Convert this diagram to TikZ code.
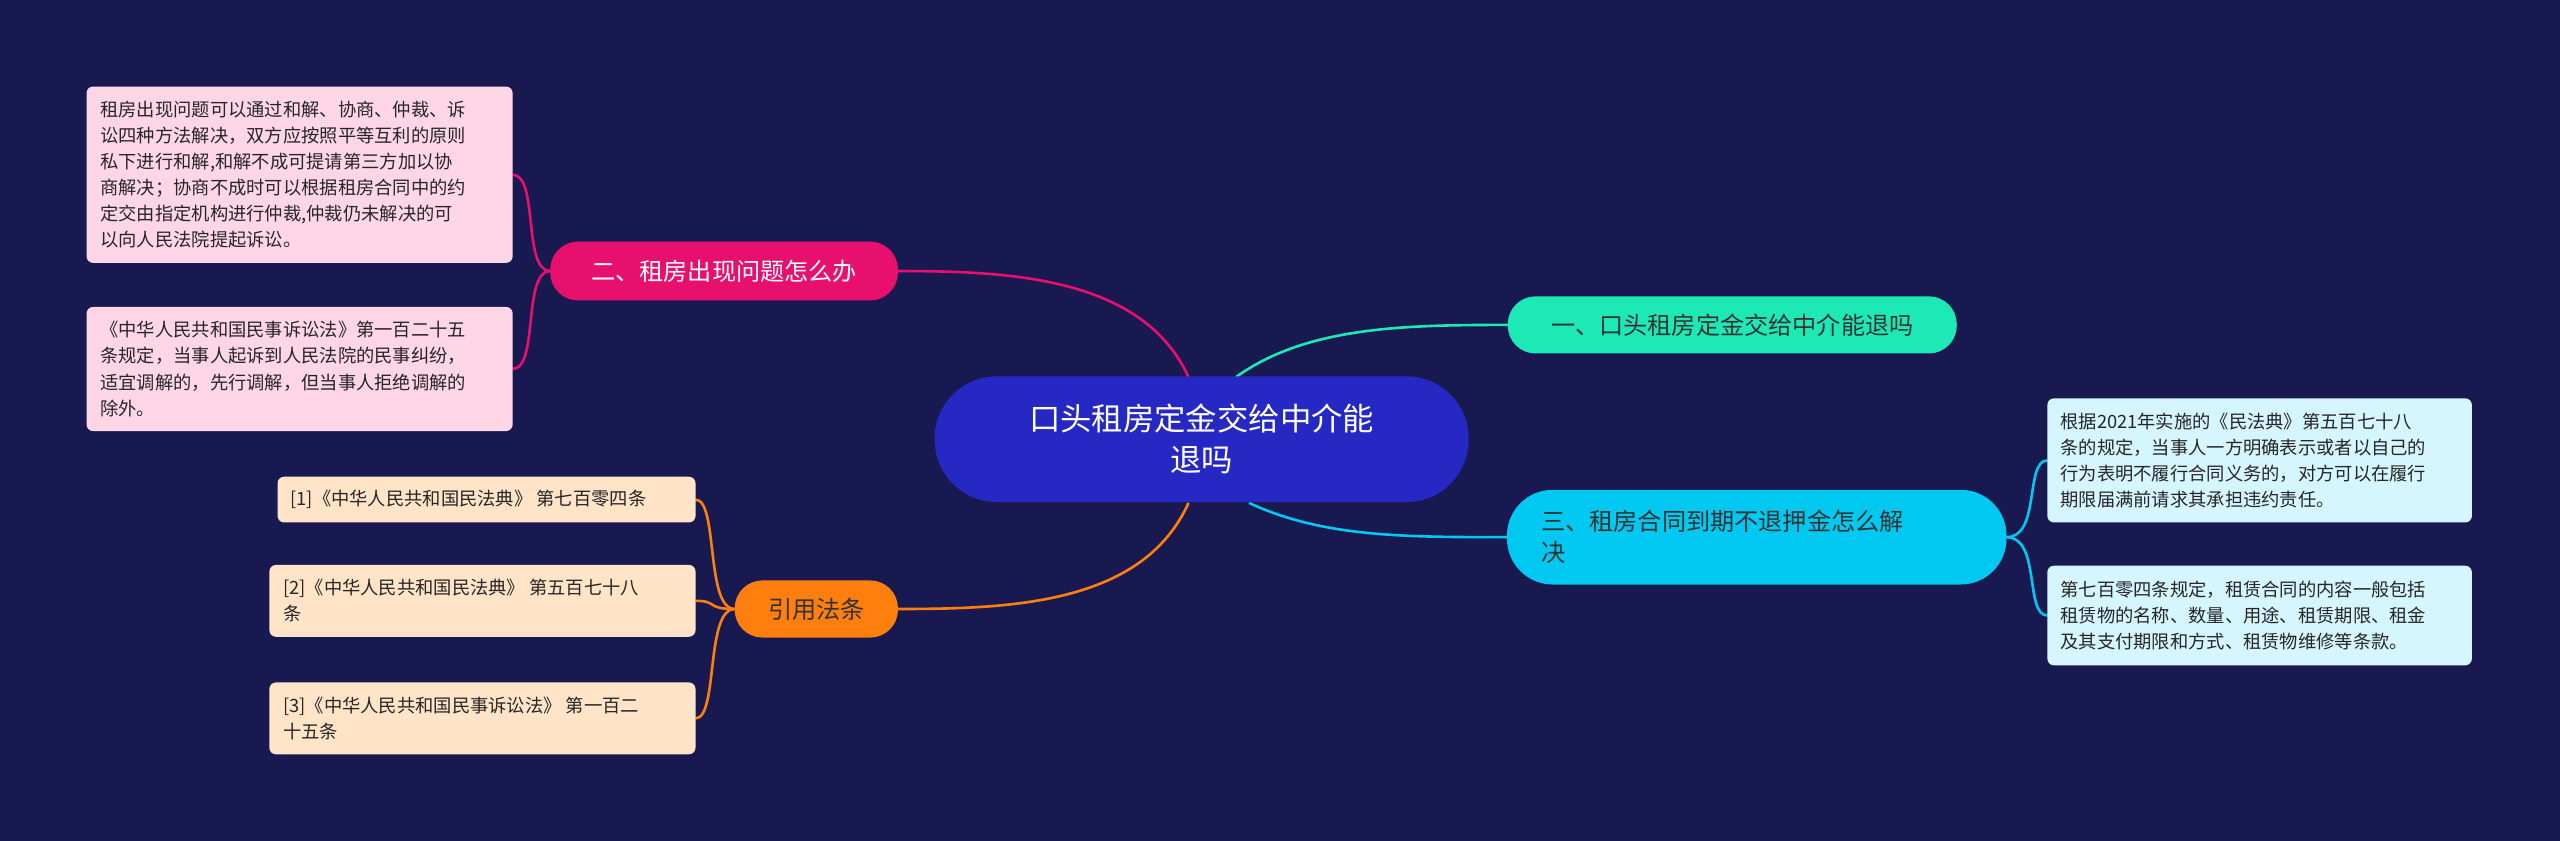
\documentclass[tikz,border=0pt]{standalone}
\usepackage{fontspec}
\setmainfont{Noto Sans CJK SC}
\begin{document}
\begin{tikzpicture}[x=0.5pt,y=-0.5pt,
 box/.style={rounded corners=2pt,inner sep=0pt,align=left,font=\fontsize{5.6pt}{8pt}\selectfont,text=black!85},
 pinkleaf/.style={box,fill=pink!40!white,fill={rgb,255:red,255;green,214;blue,230}},
 orleaf/.style={box,fill={rgb,255:red,255;green,228;blue,200}},
 cyleaf/.style={box,fill={rgb,255:red,214;green,246;blue,255}},
 br/.style={rounded corners=8.5pt,inner sep=0pt,align=left,font=\fontsize{7.4pt}{9.5pt}\selectfont},
 lnk/.style={line width=0.8pt}]
\fill[fill={rgb,255:red,24;green,25;blue,80}] (0,0) rectangle (1568,515);
\useasboundingbox (0,0) rectangle (1568,515);
\definecolor{cpink}{RGB}{232,16,110}
\definecolor{corange}{RGB}{255,127,14}
\definecolor{cteal}{RGB}{29,233,182}
\definecolor{ccyan}{RGB}{0,200,240}
% connectors
\draw[lnk,cpink] (728,231) .. controls (700,170) and (620,166) .. (550,166);
\draw[lnk,corange] (728,308) .. controls (700,370) and (620,373) .. (550,373);
\draw[lnk,cteal] (757,231) .. controls (800,200) and (860,199) .. (924,199);
\draw[lnk,ccyan] (765,308) .. controls (810,329) and (860,329) .. (923,329);
\draw[lnk,cpink] (337,166) .. controls (320,166) and (330,107) .. (314,107);
\draw[lnk,cpink] (337,166) .. controls (320,166) and (330,226) .. (314,226);
\draw[lnk,corange] (450,373) .. controls (432,373) and (440,306) .. (426,306);
\draw[lnk,corange] (450,373) .. controls (432,373) and (440,368) .. (426,368);
\draw[lnk,corange] (450,373) .. controls (432,373) and (440,440) .. (426,440);
\draw[lnk,ccyan] (1229,329) .. controls (1250,329) and (1240,282) .. (1254,282);
\draw[lnk,ccyan] (1229,329) .. controls (1250,329) and (1240,377) .. (1254,377);
% center
\node[fill={rgb,255:red,38;green,40;blue,196},rounded corners=19pt,minimum width=163.5pt,minimum height=38.5pt,align=center,text=white,font=\fontsize{9.6pt}{12.5pt}\selectfont] (c) at (736,269) {口头租房定金交给中介能\\退吗};
% branches
\node[br,fill=cteal,text=black!80,minimum width=137.5pt,minimum height=17.5pt,align=center] (b1) at (1061,199) {一、口头租房定金交给中介能退吗};
\node[br,fill=ccyan,text=black!80,minimum width=153pt,minimum height=29pt,rounded corners=14pt] (b3) at (1076,329) {\hspace{4pt}\parbox{136pt}{三、租房合同到期不退押金怎么解\\决}};
\node[br,fill=cpink,text=white,minimum width=106.5pt,minimum height=18pt,align=center] (b2) at (443.5,166) {二、租房出现问题怎么办};
\node[br,fill=corange,text=black!80,minimum width=50pt,minimum height=17.5pt,align=center] (b4) at (500,373) {引用法条};
% leaves
\node[pinkleaf,minimum width=130.5pt,minimum height=54pt] (l1) at (183.5,107) {\parbox{122pt}{租房出现问题可以通过和解、协商、仲裁、诉\\讼四种方法解决，双方应按照平等互利的原则\\私下进行和解,和解不成可提请第三方加以协\\商解决；协商不成时可以根据租房合同中的约\\定交由指定机构进行仲裁,仲裁仍未解决的可\\以向人民法院提起诉讼。}};
\node[pinkleaf,minimum width=130.5pt,minimum height=38pt] (l2) at (183.5,226) {\parbox{122pt}{《中华人民共和国民事诉讼法》第一百二十五\\条规定，当事人起诉到人民法院的民事纠纷，\\适宜调解的，先行调解，但当事人拒绝调解的\\除外。}};
\node[orleaf,minimum width=128pt,minimum height=14pt] (o1) at (298,306) {\parbox{120pt}{[1]《中华人民共和国民法典》 第七百零四条}};
\node[orleaf,minimum width=130.5pt,minimum height=22pt] (o2) at (295.5,368) {\parbox{122pt}{[2]《中华人民共和国民法典》 第五百七十八\\条}};
\node[orleaf,minimum width=130.5pt,minimum height=22pt] (o3) at (295.5,440) {\parbox{122pt}{[3]《中华人民共和国民事诉讼法》 第一百二\\十五条}};
\node[cyleaf,minimum width=130pt,minimum height=38pt] (r1) at (1384,282) {\parbox{122pt}{根据2021年实施的《民法典》第五百七十八\\条的规定，当事人一方明确表示或者以自己的\\行为表明不履行合同义务的，对方可以在履行\\期限届满前请求其承担违约责任。}};
\node[cyleaf,minimum width=130pt,minimum height=30.5pt] (r2) at (1384,377) {\parbox{122pt}{第七百零四条规定，租赁合同的内容一般包括\\租赁物的名称、数量、用途、租赁期限、租金\\及其支付期限和方式、租赁物维修等条款。}};
\end{tikzpicture}
\end{document}
